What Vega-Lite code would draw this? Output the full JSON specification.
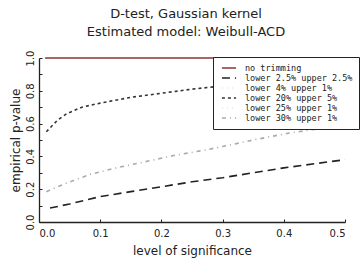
{
  "$schema": "https://vega.github.io/schema/vega-lite/v6.json",
  "width": 306,
  "height": 164,
  "autosize": "none",
  "padding": {"left": 39, "top": 58, "right": 19, "bottom": 43},
  "background": "white",
  "config": {
    "view": {"stroke": null},
    "font": "DejaVu Sans",
    "axis": {"domainColor": "#222", "tickColor": "#222", "labelColor": "#222", "titleColor": "#222", "grid": false, "labelFont": "DejaVu Sans", "titleFont": "DejaVu Sans", "titleFontWeight": "normal"},
    "legend": {
      "title": null,
      "orient": "none",
      "legendX": 174,
      "legendY": -1,
      "symbolType": "stroke",
      "symbolSize": 200,
      "symbolStrokeWidth": 1.5,
      "symbolOffset": 2,
      "labelOffset": 8,
      "labelFont": "DejaVu Sans Mono",
      "labelFontSize": 8.5,
      "labelColor": "#222",
      "clipHeight": 10,
      "rowPadding": 0,
      "padding": 6,
      "strokeColor": "#222",
      "fillColor": "white"
    }
  },
  "title": {
    "text": ["D-test, Gaussian kernel", "Estimated model: Weibull-ACD"],
    "fontSize": 13,
    "fontWeight": "normal",
    "color": "#222",
    "lineHeight": 18,
    "offset": 11,
    "dx": -6,
    "font": "DejaVu Sans"
  },
  "data": {
    "values": [
      {"s": 0.01, "p": 1.0, "c": "no trimming"},
      {"s": 0.5, "p": 1.0, "c": "no trimming"},
      {"s": 0.018, "p": 0.085, "c": "lower 2.5% upper 2.5%"},
      {"s": 0.05, "p": 0.11, "c": "lower 2.5% upper 2.5%"},
      {"s": 0.1, "p": 0.155, "c": "lower 2.5% upper 2.5%"},
      {"s": 0.15, "p": 0.185, "c": "lower 2.5% upper 2.5%"},
      {"s": 0.2, "p": 0.215, "c": "lower 2.5% upper 2.5%"},
      {"s": 0.25, "p": 0.245, "c": "lower 2.5% upper 2.5%"},
      {"s": 0.3, "p": 0.27, "c": "lower 2.5% upper 2.5%"},
      {"s": 0.35, "p": 0.3, "c": "lower 2.5% upper 2.5%"},
      {"s": 0.4, "p": 0.33, "c": "lower 2.5% upper 2.5%"},
      {"s": 0.45, "p": 0.355, "c": "lower 2.5% upper 2.5%"},
      {"s": 0.5, "p": 0.38, "c": "lower 2.5% upper 2.5%"},
      {"s": 0.012, "p": 0.55, "c": "lower 20% upper 5%"},
      {"s": 0.03, "p": 0.62, "c": "lower 20% upper 5%"},
      {"s": 0.045, "p": 0.66, "c": "lower 20% upper 5%"},
      {"s": 0.07, "p": 0.7, "c": "lower 20% upper 5%"},
      {"s": 0.1, "p": 0.725, "c": "lower 20% upper 5%"},
      {"s": 0.15, "p": 0.76, "c": "lower 20% upper 5%"},
      {"s": 0.2, "p": 0.785, "c": "lower 20% upper 5%"},
      {"s": 0.25, "p": 0.81, "c": "lower 20% upper 5%"},
      {"s": 0.3, "p": 0.83, "c": "lower 20% upper 5%"},
      {"s": 0.4, "p": 0.86, "c": "lower 20% upper 5%"},
      {"s": 0.5, "p": 0.88, "c": "lower 20% upper 5%"},
      {"s": 0.012, "p": 0.185, "c": "lower 30% upper 1%"},
      {"s": 0.04, "p": 0.23, "c": "lower 30% upper 1%"},
      {"s": 0.083, "p": 0.29, "c": "lower 30% upper 1%"},
      {"s": 0.12, "p": 0.325, "c": "lower 30% upper 1%"},
      {"s": 0.184, "p": 0.376, "c": "lower 30% upper 1%"},
      {"s": 0.22, "p": 0.405, "c": "lower 30% upper 1%"},
      {"s": 0.266, "p": 0.435, "c": "lower 30% upper 1%"},
      {"s": 0.3, "p": 0.46, "c": "lower 30% upper 1%"},
      {"s": 0.35, "p": 0.5, "c": "lower 30% upper 1%"},
      {"s": 0.405, "p": 0.54, "c": "lower 30% upper 1%"},
      {"s": 0.45, "p": 0.565, "c": "lower 30% upper 1%"},
      {"s": 0.5, "p": 0.59, "c": "lower 30% upper 1%"}
    ]
  },
  "mark": {"type": "line", "strokeWidth": 1.6},
  "encoding": {
    "x": {
      "field": "s", "type": "quantitative",
      "scale": {"domain": [0, 0.5], "nice": false},
      "axis": {"values": [0, 0.1, 0.2, 0.3, 0.4, 0.5], "format": ".1f", "title": "level of significance", "tickSize": -3, "labelPadding": 9, "labelFontSize": 10, "titleFontSize": 12, "titlePadding": 7, "domainWidth": 1.3}
    },
    "y": {
      "field": "p", "type": "quantitative",
      "scale": {"domain": [0, 1], "nice": false},
      "axis": {"values": [0, 0.1, 0.2, 0.3, 0.4, 0.5, 0.6, 0.7, 0.8, 0.9, 1.0], "labelExpr": "round(datum.value*10) % 2 == 0 ? format(datum.value, '.1f') : ''", "title": "empirical p-value", "tickSize": -3, "labelAngle": 270, "labelAlign": "center", "labelBaseline": "bottom", "labelPadding": 7, "labelFontSize": 10, "titleFontSize": 12, "titlePadding": 3, "domainWidth": 1.3}
    },
    "strokeDash": {
      "field": "c", "type": "nominal",
      "scale": {
        "domain": ["no trimming", "lower 2.5% upper 2.5%", "lower 4% upper 1%", "lower 20% upper 5%", "lower 25% upper 1%", "lower 30% upper 1%"],
        "range": [[1, 0], [8, 5], [1, 4], [3, 3], [1, 4], [4, 4, 1, 4]]
      }
    },
    "color": {
      "field": "c", "type": "nominal",
      "scale": {
        "domain": ["no trimming", "lower 2.5% upper 2.5%", "lower 4% upper 1%", "lower 20% upper 5%", "lower 25% upper 1%", "lower 30% upper 1%"],
        "range": ["#8a3535", "#222222", "#e4e4e4", "#333333", "#e4e4e4", "#aaaaaa"]
      }
    }
  }
}
